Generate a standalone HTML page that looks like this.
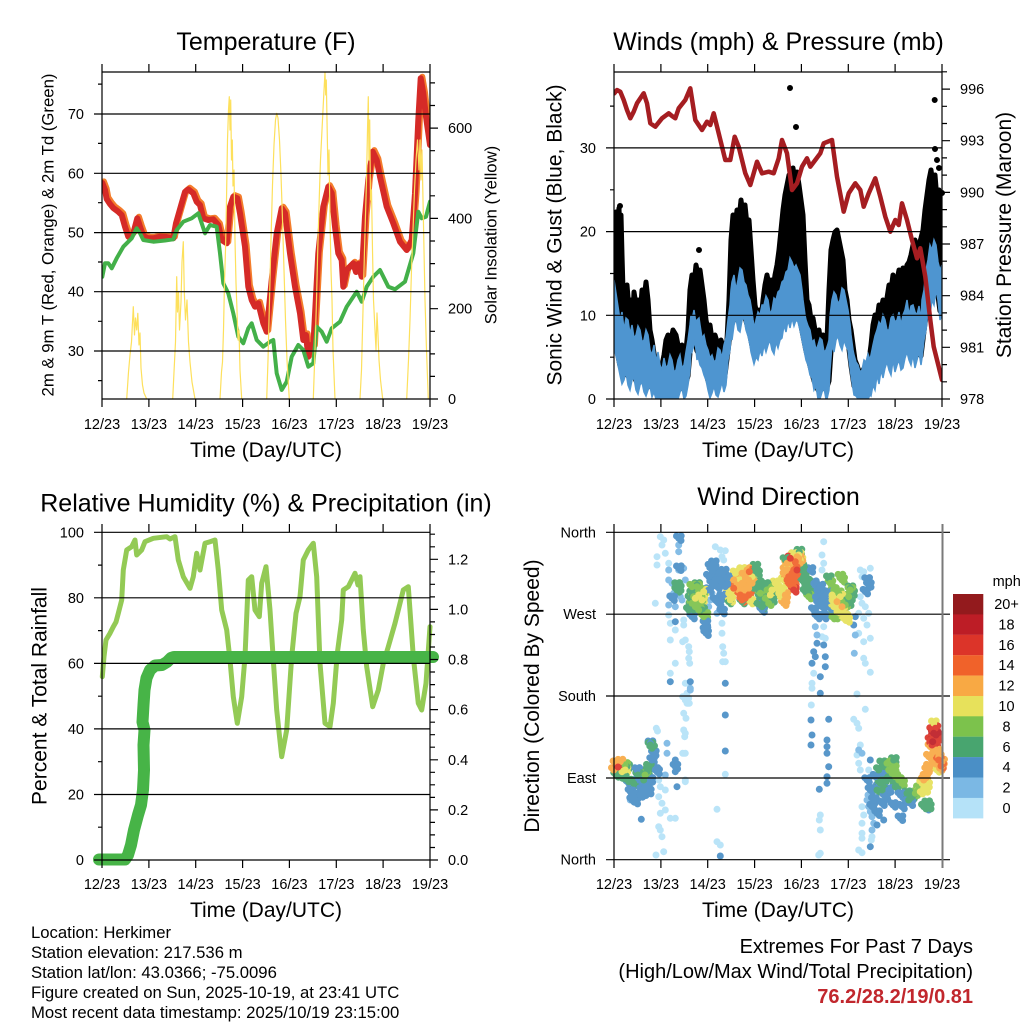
<!DOCTYPE html>
<html><head><meta charset="utf-8"><style>
html,body{margin:0;padding:0;background:#fff;}
svg{display:block;}
text{font-family:"Liberation Sans",Arial,Helvetica,sans-serif;fill:#000;}
</style></head><body>
<svg xmlns="http://www.w3.org/2000/svg" xmlns:xlink="http://www.w3.org/1999/xlink" width="1024" height="1024" viewBox="0 0 1024 1024">
<rect width="1024" height="1024" fill="#fff"/>
<defs>
<clipPath id="c1"><rect x="102" y="72" width="328" height="327"/></clipPath>
<clipPath id="c2"><rect x="614" y="60" width="328" height="339"/></clipPath>
<polyline id="tl" fill="none" points="102.3,183 105,190 106.7,199 110,204 113.3,208 118.3,211.7 121.7,215 125,226.7 128.3,236.7 133.3,233.3 137.3,218.3 140,226.7 143.3,236 148.3,238.3 153.3,238.3 160,236.7 166,237 173.3,238.3 176,223.3 181.7,203.3 185,192 188.3,189.3 193.3,193.3 196.7,201.7 200,205 203.3,218.3 208.3,220 213.3,219.3 218.3,225 221.7,240 226.7,243.3 230,206.7 233.3,196.7 237.3,198.3 240,213.3 245,246.7 248.3,286.7 251.7,300 255,306.7 258.3,303.3 263.3,323.3 266.7,331.7 271.7,280 276.7,233.3 281.7,208.3 285,213.3 290,253.3 295,286.7 300,313.3 303.3,340 306,335 308.3,356.7 311,345 313.3,346.7 318.3,253.3 323.3,206.7 328.3,186.7 331.7,193.3 335,226.7 338.3,253.3 341.7,260 343.3,286.7 346.7,270 353.3,263.3 356,272 358.3,264 361.7,276.7 365,216.7 368.3,180 372.7,151.7 376.7,160 380,176.7 386.7,206.7 393.3,223.3 400,241.7 406.7,250 411.7,240 415,193.3 418.3,120 420.7,78.3 423.3,93.3 426,116.7 430,145"/>
</defs>

<!-- ============ TOP-LEFT: TEMPERATURE ============ -->
<g clip-path="url(#c1)" fill="none" stroke-linejoin="round" stroke-linecap="round">
<use xlink:href="#tl" href="#tl" stroke="#f47d2c" stroke-width="6" transform="translate(1.6,-1.6)"/>
<use xlink:href="#tl" href="#tl" stroke="#d52a27" stroke-width="6"/>
<polyline stroke="#43b049" stroke-width="4" points="102.3,276.7 105,263.3 108.3,263.3 111.7,268.3 116.7,258.3 123.3,246.7 131.7,238.3 136.7,228.3 140,233.3 143.3,240 153.3,241.7 165,240.5 173.3,239.3 176.7,230 183.3,221.7 191.7,218.3 198.3,213.3 201.7,223.3 205,233.3 210,225 216.7,226.7 220,253.3 223.3,283.3 228.3,293.3 233.3,313.3 238.3,336.7 243.3,343.3 248.3,328.3 251.7,323.3 256.7,340 263.3,346.7 270,341.7 273.3,340 276.7,373.3 281.7,390 286.7,381.7 291.7,356.7 298.3,345 303.3,350 308.3,366.7 313.3,363.3 316.7,326.7 321.7,331.7 326.7,341.7 331.7,328.3 340,321.7 346.7,306.7 356.7,291.7 361.7,301.7 366.7,286.7 373.3,276.7 380,270 388.3,286.7 395,289.3 405,281.7 413.3,253.3 418.3,211.7 421.7,218.3 426,216.7 430,201.7"/>
<g stroke="#fde05c" stroke-width="1.2">
<polyline points="126.7,399 128.5,372 130,355 131.5,342 133.3,306.7 134.5,335 135.5,318 136.7,330 137.8,313.3 139,345 140,333 141,368 142.5,385 144,393 146.7,399"/>
<polyline points="172.7,399 174,372 175.5,342 176.7,276.7 177.5,312 178.5,292 179.5,330 181,302 182,262 183.3,241.7 184.3,292 185.5,320 187,300 188.5,342 190,362 192,382 195,399"/>
<polyline points="220,399 221.5,372 222.5,362 223.5,330 224.5,282 225.5,250 226.5,200 227.5,140 228.5,110 229.3,96.7 230,130 230.7,100 231.5,160 232.3,140 233,186 234,170 235,240 236,283 237,310 238,340 239,330 240,370 241.7,399"/>
<polyline points="266.7,399 268,360 269.5,300 271,240 272.5,185 274,145 275.5,120 276.7,113.3 278,118 279.5,140 281,175 282.5,220 284,270 285.5,320 287,360 289.3,399"/>
<polyline points="313.3,399 315,350 316.5,300 318,240 319.5,190 320.5,160 321.5,140 322.5,120 323.5,100 324.3,85 325,71.7 325.7,95 326.3,80 327,120 328,175 329,150 330,220 331,270 332,300 333,350 335,399"/>
<polyline points="360,399 361.5,370 362.5,330 363.5,290 364.5,250 365.5,215 366.5,180 367.5,130 368.3,96.7 369,160 369.7,120 370.5,200 371.5,190 372.5,250 373.5,300 375,330 376,350 377,313 378,335 379,360 380.5,380 382.7,399"/>
<polyline points="406.7,399 408.5,360 410,320 411.5,270 413,230 414.5,190 416,160 417.5,140 419,170 420,140 421,180 422,150 423,200 424,250 425,300 426.5,350 428.3,399"/>
</g>
</g>
<g fill="none" stroke="#000" stroke-width="1.2">
<path d="M94 351H430M94 291.7H430M94 232.6H430M94 173.3H430M94 114H430"/>
<path d="M102 64V407M430 64V407M102 72H430M102 399H438"/>
<path d="M148.9 64V72M195.7 64V72M242.6 64V72M289.4 64V72M336.3 64V72M383.1 64V72M148.9 399V407M195.7 399V407M242.6 399V407M289.4 399V407M336.3 399V407M383.1 399V407"/>
<path d="M98 380.6H102M98 321.3H102M98 262H102M98 202.7H102M98 143.4H102M98 84.1H102"/>
<path d="M430 308.7H438M430 218.4H438M430 128.1H438"/>
<path d="M430 376.4H435M430 353.9H435M430 331.3H435M430 286.1H435M430 263.6H435M430 241H435M430 195.8H435M430 173.3H435M430 150.7H435M430 105.5H435M430 82.9H435"/>
</g>
<text x="266" y="50" font-size="25" text-anchor="middle">Temperature (F)</text>
<g font-size="14.5" text-anchor="end">
<text x="84" y="356">30</text><text x="84" y="296.7">40</text><text x="84" y="237.6">50</text><text x="84" y="178.3">60</text><text x="84" y="119">70</text>
</g>
<g font-size="14.5">
<text x="448" y="404">0</text><text x="448" y="313.7">200</text><text x="448" y="223.4">400</text><text x="448" y="133.1">600</text>
</g>
<g font-size="14.5" text-anchor="middle">
<text x="102" y="429">12/23</text><text x="148.9" y="429">13/23</text><text x="195.7" y="429">14/23</text><text x="242.6" y="429">15/23</text><text x="289.4" y="429">16/23</text><text x="336.3" y="429">17/23</text><text x="383.1" y="429">18/23</text><text x="430" y="429">19/23</text>
</g>
<text x="266" y="457" font-size="21" text-anchor="middle">Time (Day/UTC)</text>
<text transform="translate(53.5,235) rotate(-90)" font-size="16.7" text-anchor="middle" textLength="323" lengthAdjust="spacingAndGlyphs">2m &amp; 9m T (Red, Orange) &amp; 2m Td (Green)</text>
<text transform="translate(496.5,235) rotate(-90)" font-size="16.7" text-anchor="middle">Solar Insolation (Yellow)</text>

<!-- ============ TOP-RIGHT: WINDS ============ -->
<g clip-path="url(#c2)">
<polygon fill="#000" stroke="#000" stroke-width="5" stroke-linejoin="round" points="614,270 615,230 616,212 617,245 618,220 619,208 620,240 621,215 622,255 623,290 625,300 627,285 629,310 631,300 633,315 634,292 636,305 638,300 640,318 642,290 644,300 646,282 648,300 650,330 652,340 655,360 658,365 661,370 664,355 666,340 668,335 670,345 673,330 676,335 679,350 682,345 685,360 688,330 690,290 692,275 694,285 696,265 698,275 700,270 702,285 704,300 706,320 708,330 710,325 712,340 715,335 718,345 721,340 724,350 727,340 729,300 731,240 733,215 735,230 737,210 739,220 741,200 743,215 745,205 747,225 749,220 751,250 753,280 755,305 757,315 759,310 761,320 763,300 765,285 767,275 769,285 771,280 773,290 775,275 777,265 779,250 781,230 783,210 785,195 787,185 789,175 791,178 793,168 795,180 797,172 799,185 801,200 803,215 805,260 807,300 809,305 811,320 813,318 815,330 817,340 819,330 821,345 823,335 825,350 827,340 829,290 831,250 833,240 835,232 837,230 839,240 841,250 843,260 845,290 847,300 849,320 851,330 853,345 855,360 857,365 860,375 863,370 866,365 869,360 871,345 873,325 875,315 877,320 879,305 881,310 883,300 885,305 887,298 889,285 891,290 893,275 895,285 897,280 899,270 901,278 903,268 905,275 907,265 909,262 911,255 913,245 915,240 917,250 919,245 921,238 923,230 925,210 927,195 929,180 931,170 933,185 935,175 937,200 939,190 941,220 942,210 942,306 940,311 936,281 932,291 928,301 924,331 921,356 917,351 913,346 909,351 905,349 901,361 897,356 893,351 889,361 885,359 881,361 877,366 873,376 870,386 866,390 862,390 858,390 854,386 851,366 848,341 844,331 840,336 836,331 832,336 829,381 826,390 822,383 818,390 814,381 810,366 806,351 803,336 800,321 796,311 792,309 788,311 784,316 780,331 776,333 772,341 768,336 764,336 760,341 756,348 753,351 750,336 746,321 742,311 738,321 734,316 731,326 728,351 724,383 720,381 716,386 712,384 708,381 704,366 700,356 697,351 694,336 691,341 688,376 684,390 680,383 676,390 672,390 668,390 664,390 660,390 656,390 652,388 648,381 644,383 640,376 636,381 632,371 628,376 624,371 620,366 617,351 614,336"/>
<polygon fill="#4e95d0" stroke="#4e95d0" stroke-width="1.5" stroke-linejoin="miter" points="614,280 617,300 620,320 622,312 624,330 626,318 628,320 630,334 632,325 634,338 636,335 638,326 640,330 642,342 644,340 646,330 648,335 650,350 652,355 654,345 656,362 658,352 660,365 662,370 664,358 666,368 668,365 670,355 672,360 674,372 676,370 678,360 680,355 682,368 684,365 686,352 688,340 690,325 691,315 692,320 694,310 696,324 697,320 699,318 700,325 702,338 704,335 706,345 708,350 710,358 712,355 714,362 716,360 718,348 720,350 722,358 724,345 726,338 728,320 730,305 731,290 732,282 734,275 736,290 738,280 740,268 742,270 744,282 746,285 748,295 750,300 752,312 753,320 755,328 756,320 758,312 760,315 762,305 764,305 766,296 768,300 770,314 772,310 774,298 776,300 778,292 780,290 782,282 784,280 786,272 788,270 790,258 792,262 794,268 796,265 798,270 800,275 802,290 803,300 805,315 806,320 808,326 810,330 812,342 814,340 816,350 818,345 820,338 822,340 824,352 826,350 828,344 829,340 830,316 832,300 834,292 836,295 838,304 840,300 842,288 844,290 846,300 848,310 850,324 851,335 853,350 854,355 856,362 858,365 860,372 862,370 864,360 866,362 868,354 870,360 872,350 873,345 875,336 877,330 879,322 881,325 883,315 885,320 887,330 889,330 891,318 893,315 895,322 897,320 899,312 901,325 903,315 905,310 907,300 909,315 911,306 913,305 915,312 917,315 919,306 921,320 922,300 924,290 926,270 928,260 930,245 932,250 934,240 936,245 938,262 940,270 942,265 942,315 940,320 938,300 936,290 934,305 932,300 930,315 928,310 926,330 924,340 922,358 921,365 919,352 917,360 915,368 913,355 911,365 909,360 907,352 905,358 903,368 901,370 899,360 897,365 895,372 893,360 891,375 889,370 887,362 885,368 883,378 881,370 879,384 877,375 875,390 873,385 871,396 870,395 868,399 866,399 862,399 858,399 856,396 854,395 852,382 851,375 849,360 848,350 846,346 844,340 842,350 840,345 838,336 836,340 834,352 832,345 830,370 829,390 827,399 826,399 824,388 822,392 820,399 818,399 816,386 814,390 812,378 810,375 808,365 806,360 804,350 803,345 801,335 800,330 798,322 796,320 794,326 792,318 790,328 788,320 786,332 784,325 782,338 780,340 778,348 776,342 774,354 772,350 770,340 768,345 766,352 764,345 762,356 760,350 758,360 756,357 754,364 753,360 751,352 750,345 748,336 746,330 744,318 742,320 740,332 738,330 736,318 734,325 732,340 731,335 730,350 728,360 726,385 724,392 722,382 720,390 718,397 716,395 714,386 712,393 710,398 708,390 706,380 704,375 702,368 700,365 698,356 697,360 695,340 694,345 692,352 691,350 690,370 688,385 686,396 684,399 682,388 680,392 678,399 676,399 672,399 668,399 664,399 660,399 656,399 654,392 652,397 650,386 648,390 646,396 644,392 642,382 640,385 638,394 636,390 634,378 632,380 630,390 628,385 626,372 624,380 622,384 620,375 618,365 617,360 615,352 614,345"/>
<polyline fill="none" stroke="#a51d21" stroke-width="4.5" stroke-linejoin="round" stroke-linecap="round" points="614.3,93.3 617,90 620.3,91.7 623.7,100 627,110 630.3,118.3 633.7,111.7 637,103.3 643.7,93.3 647,103.3 650.3,123.3 655.3,126.7 662,118.3 668.7,113.3 672,116 675.3,118.3 678.7,108.3 685.3,100 690.3,88.3 695.3,120 702,130 707,121.7 710.3,125 713.7,113.3 718.7,133.3 725.3,160 730.3,160 734.7,136.7 738.7,146.7 745.3,173.3 750.3,185 757,161.7 762,173.3 768.7,171.7 773.7,173.3 778.7,158.3 782,140 787,153.3 792,190 797,183.3 802,166.7 807,158.3 810.3,166.7 815.3,160 820.3,153.3 823.7,143.3 832,140 837,176.7 843.7,211.7 848.7,193.3 855.3,183.3 860.3,190 863.7,206.7 868.7,193.3 875.3,178.3 880.3,196.7 885.3,216.7 890.3,231.7 895.3,220 898.7,225 902,203.3 907,220 912,240 917,258.3 920.3,248.3 925.3,276.7 930.3,320 933.7,346.7 938.7,366.7 942,380"/>
</g>
<path fill="none" stroke="#000" stroke-width="6" stroke-linecap="round" d="M790 88h0M796 127h0M934.7 100h0M935 149h0M937 160h0M939 168h0M942 193h0M699 250h0M620 206h0"/>
<g fill="none" stroke="#000" stroke-width="1.2">
<path d="M606 315.3H942M606 231.6H942M606 147.9H942"/>
<path d="M614 64V407M942 64V407M614 72H942M606 399H950"/>
<path d="M660.9 64V72M707.7 64V72M754.6 64V72M801.4 64V72M848.3 64V72M895.1 64V72M660.9 399V407M707.7 399V407M754.6 399V407M801.4 399V407M848.3 399V407M895.1 399V407"/>
<path d="M610 357.2H614M610 273.5H614M610 189.8H614M610 106.1H614"/>
<path d="M942 347.3H950M942 295.7H950M942 244H950M942 192.4H950M942 140.7H950M942 89.1H950"/>
<path d="M942 381.8H947M942 364.6H947M942 330.1H947M942 312.9H947M942 278.5H947M942 261.2H947M942 226.8H947M942 209.6H947M942 175.1H947M942 157.9H947M942 123.5H947M942 106.3H947M942 71.8H947"/>
</g>
<text x="778.5" y="50" font-size="25" text-anchor="middle">Winds (mph) &amp; Pressure (mb)</text>
<g font-size="14.5" text-anchor="end">
<text x="596" y="404">0</text><text x="596" y="320.3">10</text><text x="596" y="236.6">20</text><text x="596" y="152.9">30</text>
</g>
<g font-size="14.5">
<text x="960" y="404">978</text><text x="960" y="352.3">981</text><text x="960" y="300.7">984</text><text x="960" y="249">987</text><text x="960" y="197.4">990</text><text x="960" y="145.7">993</text><text x="960" y="94.1">996</text>
</g>
<g font-size="14.5" text-anchor="middle">
<text x="614" y="429">12/23</text><text x="660.9" y="429">13/23</text><text x="707.7" y="429">14/23</text><text x="754.6" y="429">15/23</text><text x="801.4" y="429">16/23</text><text x="848.3" y="429">17/23</text><text x="895.1" y="429">18/23</text><text x="942" y="429">19/23</text>
</g>
<text x="778" y="457" font-size="21" text-anchor="middle">Time (Day/UTC)</text>
<text transform="translate(561.5,235) rotate(-90)" font-size="21" text-anchor="middle">Sonic Wind &amp; Gust (Blue, Black)</text>
<text transform="translate(1011,235) rotate(-90)" font-size="21" text-anchor="middle">Station Pressure (Maroon)</text>

<!-- ============ BOTTOM-LEFT: RH & PRECIP ============ -->
<polyline fill="none" stroke="#93ca55" stroke-width="5" stroke-linejoin="round" stroke-linecap="round" points="102.3,676.7 104,656.7 106,640 110,633.3 113.3,626.7 116,622 118.3,613.3 121.7,600 123.3,570 126.7,550 131.7,546.7 135,540 136.7,555 141.7,550 145,541.7 153.3,538.3 166.7,536.7 170,539 175,536.7 178.3,560 183.3,576.7 190,588.3 193.3,576.7 196.7,553.3 200,570 205,543.3 210,541.7 215,540 218.3,570 221.7,610 226.7,630 230,660 233.3,696.7 237.3,723.3 241.7,696.7 245,656.7 248.3,580 251.7,576.7 255,610 259.3,616.7 261.7,583.3 266,566.7 270,610 273.3,660 276.7,710 281.7,756.7 286.7,730 291.7,656.7 296,613.3 300,596.7 303.3,560 308.3,550 313.3,543.3 316.7,576.7 320,663.3 325,723.3 330,726.7 333.3,703.3 337.3,653.3 341.7,620 343.3,590 348.3,586.7 351.7,580 355,573.3 358,585 360,576.7 363.3,630 366.7,666.7 372.7,706.7 378.3,690 383.3,663.3 388.3,646.7 395,623.3 403.3,590 408.3,586.7 413.3,656.7 418.3,703.3 421.7,710 426,683.3 430,626.7"/>
<polyline fill="none" stroke="#47b447" stroke-width="12" stroke-linejoin="round" stroke-linecap="round" points="99,859.5 125,859.5 128,855 131,845 134,830 138,815 141,805 143,790 144,770 143.5,745 144.5,730 142.5,722 143.5,705 144.5,690 146.5,678 150,670 155,665.5 162,665 167,662 171,658 174,657 433,657"/>
<g fill="none" stroke="#000" stroke-width="1.2">
<path d="M94 794.5H430M94 728.9H430M94 663.4H430M94 597.8H430"/>
<path d="M102 524V868M430 524V868M94 532.3H430M94 860H438"/>
<path d="M148.9 524V532M195.7 524V532M242.6 524V532M289.4 524V532M336.3 524V532M383.1 524V532M148.9 860V868M195.7 860V868M242.6 860V868M289.4 860V868M336.3 860V868M383.1 860V868"/>
<path d="M98 827.2H102M98 761.7H102M98 696.2H102M98 630.6H102M98 565.1H102"/>
<path d="M430 809.9H438M430 759.8H438M430 709.6H438M430 659.5H438M430 609.4H438M430 559.3H438"/>
<path d="M430 847.5H435M430 834.9H435M430 822.4H435M430 797.4H435M430 784.8H435M430 772.3H435M430 747.2H435M430 734.7H435M430 722.2H435M430 697.1H435M430 684.6H435M430 672H435M430 647H435M430 634.5H435M430 621.9H435M430 596.9H435M430 584.3H435M430 571.8H435M430 546.8H435M430 534.2H435"/>
</g>
<text x="266" y="511.5" font-size="25" text-anchor="middle">Relative Humidity (%) &amp; Precipitation (in)</text>
<g font-size="14.5" text-anchor="end">
<text x="84" y="865">0</text><text x="84" y="799.5">20</text><text x="84" y="733.9">40</text><text x="84" y="668.4">60</text><text x="84" y="602.8">80</text><text x="84" y="537.3">100</text>
</g>
<g font-size="14.5">
<text x="448" y="865">0.0</text><text x="448" y="814.9">0.2</text><text x="448" y="764.8">0.4</text><text x="448" y="714.6">0.6</text><text x="448" y="664.5">0.8</text><text x="448" y="614.4">1.0</text><text x="448" y="564.3">1.2</text>
</g>
<g font-size="14.5" text-anchor="middle">
<text x="102" y="889">12/23</text><text x="148.9" y="889">13/23</text><text x="195.7" y="889">14/23</text><text x="242.6" y="889">15/23</text><text x="289.4" y="889">16/23</text><text x="336.3" y="889">17/23</text><text x="383.1" y="889">18/23</text><text x="430" y="889">19/23</text>
</g>
<text x="266" y="917" font-size="21" text-anchor="middle">Time (Day/UTC)</text>
<text transform="translate(46.5,696) rotate(-90)" font-size="21" text-anchor="middle">Percent &amp; Total Rainfall</text>

<!-- ============ BOTTOM-RIGHT: WIND DIRECTION ============ -->
<g fill="none" stroke-width="7" stroke-linecap="round" opacity="0.92">
<path stroke="#b5e2f8" d="M656.3 728.3h0M657.5 731h0M658.7 780h0M660.3 786.7h0M658.7 796.7h0M662 803.3h0M660.3 813.3h0M658.7 826.7h0M660.3 830h0M662 836.7h0M663.7 851.7h0M656 855h0M665.3 790h0M665.3 810h0M670.3 818.3h0M675.3 818.3h0M685.3 780h0M660.3 536.7h0M663.7 540h0M657 556.7h0M665.3 553.3h0M657 565h0M668.7 563.3h0M655.3 603.3h0M670.3 623.3h0M670.3 640h0M668.7 615h0M675.3 630h0M675.3 663.3h0M670.3 673.3h0M683.7 620h0M683.7 625h0M685.3 640h0M682.7 641.7h0M662 545h0M688.7 646.7h0M689.3 651.7h0M688.7 658.3h0M689.7 663.3h0M685.3 683.3h0M688.7 683.3h0M687 693.3h0M688.7 698.3h0M685.3 700h0M683.7 713.3h0M686 718.3h0M683.7 730h0M685.3 733.3h0M684.7 736.7h0M685.3 753.3h0M682.7 753.3h0M685.3 781.7h0M687 703.3h0M689.3 703.3h0M682.7 696.7h0M715.3 546.7h0M720.3 550h0M725.3 550.7h0M722 556.7h0M723.7 560h0M722 623.3h0M722 633.3h0M722.7 646.7h0M723.7 653.3h0M725.3 661.7h0M722.7 661.7h0M725.3 774.3h0M717 809.3h0M717 841.7h0M720.3 845h0M823.7 541.7h0M822 555h0M823.7 563.3h0M822 570h0M827 610h0M823.7 626.7h0M822 636.7h0M825.3 638.3h0M812 683.3h0M812 688.3h0M811.3 705h0M820.3 815h0M819.3 820h0M820.3 830h0M818.7 855h0M820.3 853.3h0M813.7 673.3h0M860.3 570h0M863.7 571.7h0M862 576.7h0M870.3 568.3h0M860.3 596.7h0M862 603.3h0M865.3 606.7h0M858.7 613.3h0M868.7 613.3h0M863.7 618.3h0M867 625h0M870.3 638.3h0M863.7 641.7h0M858.7 633.3h0M863.7 658.3h0M865.3 663.3h0M870.3 672.3h0M857 694h0M865.3 709.3h0M853.7 719.3h0M857 723.3h0M858.7 728.3h0M860.3 745h0M857 755h0M858.7 763.3h0M860.3 770h0M862 806.7h0M863.7 815h0M862 823.3h0M862 833.3h0M862 838.3h0M858.7 850h0M862 852.7h0M868.7 770h0M872 836.7h0M871.3 840h0"/>
<path stroke="#7bb8e4" d="M630.3 800h0M633.7 801.7h0M642 797h0M667 743.3h0M667 753.3h0M665.3 775h0M668.7 570h0M668.7 580h0M672 583.3h0M675.3 586.7h0M673.7 593.3h0M668.7 605h0M678.7 570h0M683.7 568.3h0M678.7 590h0M682 600h0M675.3 606.7h0M685.3 580h0M680.3 596.7h0M678.7 545h0M678.7 551.7h0M690.3 688.3h0M690.3 690h0M708.7 606.7h0M712 593.3h0M720.3 606.7h0M717 613.3h0M710.3 600h0M817 635h0M815.3 626.7h0M855.3 635h0M854.3 653.3h0M858.7 750h0M862 753.3h0M867 800h0M868.7 806.7h0M870.3 811.7h0M872 816.7h0M873.7 823.3h0M872 830h0M868 795h0"/>
<path stroke="#4a8fc6" d="M725.3 683.3h0M725.3 715h0M725.3 751h0M720.3 856h0M817 643.3h0M813.7 651.7h0M812 663.3h0M815.3 656.7h0M820.3 676.7h0M820.3 693.3h0M811 720h0M812 735h0M811 745h0M827 740h0M827 746.7h0M827 753.3h0M828.7 766.7h0M827 776.7h0M827 783.3h0M828.7 719.3h0M819.3 789.3h0M825.3 656.7h0M825.3 666.7h0M823.7 645h0M855.3 616.7h0M853.7 625h0M870.3 760h0M641.3 819.3h0M670.3 681.7h0M690.3 681.7h0M870.3 846.7h0M877 825h0M883.7 820h0M928.7 810h0M675.3 760h0M675.3 771.7h0M677 786.7h0M675.3 621.7h0"/>
<use xlink:href="#wdhi" href="#wdhi" transform="translate(2.3,2.2)"/>
<use xlink:href="#wdhi" href="#wdhi" transform="translate(-2.2,-2.3)"/>
<use xlink:href="#wdhi" href="#wdhi" transform="translate(2.5,-2.4)"/>
<g id="wdhi">
<path stroke="#4a8fc6" d="M628.7 783.3h0M630.3 791.7h0M633.7 796.7h0M632 800h0M637 770h0M638.7 780h0M642 790h0M643.7 793.3h0M645.3 786.7h0M648.7 791.7h0M652 760h0M653.7 753.3h0M650.3 743.3h0M655.3 770h0M635.3 801.7h0M640.3 795h0M647 783.3h0M650.3 780h0M657 771.7h0M675.3 766.7h0M678.7 538.3h0M672 598.3h0M678.7 568.3h0M692 616.7h0M705.3 623.3h0M705.3 630h0M706 633.3h0M710.3 566.7h0M712 570h0M713.7 563.3h0M708.7 576.7h0M712 583.3h0M715.3 580h0M718.7 573.3h0M720.3 580h0M717 586.7h0M708.7 590h0M715.3 600h0M718.7 603.3h0M722 596.7h0M725.3 586.7h0M727 578.3h0M723.7 571.7h0M722 611.7h0M758.7 603.3h0M762 610h0M810.3 570h0M813.7 583.3h0M817 590h0M815.3 596.7h0M818.7 603.3h0M813.7 610h0M820.3 586.7h0M823.7 596.7h0M822 606.7h0M825.3 603.3h0M817 616.7h0M823.7 616.7h0M828.7 593.3h0M832 610h0M867 580h0M868.7 585h0M865.3 591.7h0M867 780h0M870.3 790h0M873.7 800h0M872 806.7h0M877 813.3h0M878.7 786.7h0M875.3 776.7h0M882 773.3h0M882 803.3h0M885.3 796.7h0M888.7 790h0M900.3 795h0M902 806.7h0M905.3 800h0M910.3 803.3h0M900.3 818.3h0M893 805h0"/>
<path stroke="#48a56f" d="M616 775h0M623.7 778.3h0M628.7 781.7h0M633.7 783.3h0M643.7 780h0M647 771.7h0M648.7 766.7h0M627 766.7h0M650.3 745h0M652 748.3h0M620 776h0M638 775h0M677 585h0M677 590h0M678.7 588.3h0M692 593.3h0M690.3 598.3h0M693.7 610h0M688.7 610h0M697 585h0M702 610h0M691.3 605h0M755.3 566.7h0M757 573.3h0M752 571.7h0M728.7 601.7h0M753.7 588.3h0M742 601.7h0M758.7 590h0M762 588.3h0M765.3 585h0M760.3 596.7h0M763.7 601.7h0M762 606.7h0M768.7 593.3h0M772 600h0M775.3 591.7h0M757 603.3h0M758.7 583.3h0M785.3 560h0M798.7 553.3h0M801.3 566.7h0M802 570h0M799.3 551.7h0M805.3 583.3h0M807 586.7h0M805.3 591.7h0M808.7 593.3h0M803.7 576.7h0M802 580h0M807 581.7h0M850.3 588.3h0M852 593.3h0M848.7 603.3h0M845.3 600h0M828.7 578.3h0M850 598h0M878.7 770h0M882 763.3h0M885.3 766.7h0M880.3 783.3h0M883.7 780h0M888.7 776.7h0M893.7 760h0M892 780h0M895.3 786.7h0M900.3 783.3h0M907 793.3h0M908.7 800h0M912 796.7h0M877 790h0M882 790h0M927 803.3h0M928.7 806.7h0M923.7 806.7h0"/>
<path stroke="#7cc24c" d="M625 765h0M645 775h0M692 586.7h0M697 586.7h0M698.7 590h0M693.7 596.7h0M697 601.7h0M700.3 603.3h0M702 596.7h0M695.3 606.7h0M698.7 610h0M692 603.3h0M703.7 616.7h0M705.3 615h0M767 590h0M770.3 588.3h0M773.7 585h0M765.3 598.3h0M760.3 593.3h0M768.7 603.3h0M808.7 596.7h0M830.3 583.3h0M833.7 590h0M838.7 593.3h0M842 601.7h0M845.3 605h0M848.7 596.7h0M850.3 590h0M840.3 576.7h0M842 580h0M832 616.7h0M835.3 616.7h0M887 763.3h0M888.7 770h0M892 773.3h0M895.3 776.7h0M898.7 780h0M893.7 768.3h0M902 783.3h0M915.3 793.3h0M918.7 788.3h0"/>
<path stroke="#e7e15b" d="M622 771.7h0M625.3 770h0M698.7 595h0M702 600h0M703.7 591.7h0M695.3 598.3h0M728.7 593.3h0M732 590h0M735.3 573.3h0M742 570h0M752 576.7h0M750.3 601.7h0M730.3 600h0M738.7 580h0M772 590h0M777 588.3h0M778.7 593.3h0M780.3 596.7h0M775.3 583.3h0M770.3 595h0M782 590h0M793.7 555h0M798.7 555h0M787 568.3h0M783.7 580h0M800.3 560h0M832 600h0M835.3 603.3h0M838.7 606.7h0M842 610h0M845.3 616.7h0M847 620h0M837 611.7h0M833.7 606.7h0M840.3 613.3h0M843.7 618.3h0M832 595h0M840.3 596.7h0M922 783.3h0M923.7 788.3h0M925.3 790h0M920.3 791.7h0M927 785h0M933.7 723.3h0M937 770h0"/>
<path stroke="#f8a944" d="M620.3 761.7h0M615.3 763.3h0M613.7 770h0M733.7 580h0M737 585h0M742 583.3h0M745.3 576.7h0M748.7 580h0M738.7 590h0M743.7 591.7h0M748.7 588.3h0M752 583.3h0M742 573.3h0M747 570h0M783.7 603.3h0M785.3 595h0M784.7 600h0M785.3 570h0M787 563.3h0M788.7 570h0M798.7 558.3h0M797 556.7h0M785.3 575h0M800.3 563.3h0M837 601.7h0M842 606.7h0M925.3 776.7h0M927 770h0M923.7 780h0M928.7 766.7h0M930.3 746.7h0M928.7 756.7h0M937 751.7h0M938.7 756.7h0M940.3 763.3h0M942 761.7h0M939.7 768.3h0M938 765h0"/>
<path stroke="#f0622a" d="M733.7 588.3h0M740.3 595h0M743.7 596.7h0M745.3 598.3h0M748.7 595h0M742 600h0M749.3 571.7h0M788.7 576.7h0M792 580h0M793.7 570h0M795.3 576.7h0M790.3 585h0M793.7 586.7h0M797 566.7h0M792 573.3h0M788.7 583.3h0M787 580h0M795.3 561.7h0M938.7 760h0M941 766h0"/>
<path stroke="#dc3429" d="M618 767h0M790.3 558.3h0M793.7 590h0M797 570h0M932 730h0M935.3 728.3h0M933.7 736.7h0M930.3 740h0M937 738.3h0M932 745h0M935.3 743.3h0"/>
<path stroke="#bd1d26" d="M933.7 733.3h0M936 735h0M932.7 741.7h0"/>
</g>
</g>
<g fill="none" stroke="#000" stroke-width="1.2">
<path d="M606 532.3H950M606 614.2H950M606 696H950M606 778H950M606 859.7H950"/>
<path d="M614 524V868"/>
<path d="M660.9 524V532M707.7 524V532M754.6 524V532M801.4 524V532M848.3 524V532M895.1 524V532M660.9 860V868M707.7 860V868M754.6 860V868M801.4 860V868M848.3 860V868M895.1 860V868"/>
</g>
<path d="M942.5 524V868" stroke="#7a7a7a" stroke-width="2" fill="none"/>
<text x="778.5" y="505" font-size="25" text-anchor="middle">Wind Direction</text>
<g font-size="14.5" text-anchor="end">
<text x="596" y="537.3">North</text><text x="596" y="619.2">West</text><text x="596" y="701">South</text><text x="596" y="783">East</text><text x="596" y="864.7">North</text>
</g>
<g font-size="14.5" text-anchor="middle">
<text x="614" y="889">12/23</text><text x="660.9" y="889">13/23</text><text x="707.7" y="889">14/23</text><text x="754.6" y="889">15/23</text><text x="801.4" y="889">16/23</text><text x="848.3" y="889">17/23</text><text x="895.1" y="889">18/23</text><text x="942" y="889">19/23</text>
</g>
<text x="778" y="917" font-size="21" text-anchor="middle">Time (Day/UTC)</text>
<text transform="translate(539,696) rotate(-90)" font-size="21" text-anchor="middle">Direction (Colored By Speed)</text>

<!-- colorbar -->
<g>
<rect x="953" y="594" width="30.3" height="20.5" fill="#931a1d"/>
<rect x="953" y="614.4" width="30.3" height="20.5" fill="#bd1d26"/>
<rect x="953" y="634.8" width="30.3" height="20.5" fill="#dc3429"/>
<rect x="953" y="655.2" width="30.3" height="20.5" fill="#f0622a"/>
<rect x="953" y="675.6" width="30.3" height="20.5" fill="#f8a944"/>
<rect x="953" y="696" width="30.3" height="20.5" fill="#e7e15b"/>
<rect x="953" y="716.3" width="30.3" height="20.5" fill="#7cc24c"/>
<rect x="953" y="736.7" width="30.3" height="20.5" fill="#48a56f"/>
<rect x="953" y="757.1" width="30.3" height="20.5" fill="#4a8fc6"/>
<rect x="953" y="777.5" width="30.3" height="20.5" fill="#7bb8e4"/>
<rect x="953" y="797.9" width="30.3" height="20.5" fill="#b5e2f8"/>
</g>
<g font-size="14.5" text-anchor="middle">
<text x="1006.7" y="586">mph</text>
<text x="1006.5" y="609">20+</text><text x="1006.5" y="629.4">18</text><text x="1006.5" y="649.8">16</text><text x="1006.5" y="670.2">14</text><text x="1006.5" y="690.6">12</text><text x="1006.5" y="711">10</text><text x="1006.5" y="731.4">8</text><text x="1006.5" y="751.8">6</text><text x="1006.5" y="772.2">4</text><text x="1006.5" y="792.6">2</text><text x="1006.5" y="813">0</text>
</g>

<!-- ============ FOOTER TEXT ============ -->
<g font-size="16.7">
<text x="31" y="938">Location: Herkimer</text>
<text x="31" y="958">Station elevation: 217.536 m</text>
<text x="31" y="978">Station lat/lon: 43.0366; -75.0096</text>
<text x="31" y="998">Figure created on Sun, 2025-10-19, at 23:41 UTC</text>
<text x="31" y="1018">Most recent data timestamp: 2025/10/19 23:15:00</text>
</g>
<g font-size="20" text-anchor="end">
<text x="973" y="953">Extremes For Past 7 Days</text>
<text x="973" y="978">(High/Low/Max Wind/Total Precipitation)</text>
<text x="973" y="1003" font-weight="bold" style="fill:#c1272d">76.2/28.2/19/0.81</text>
</g>
</svg>
</body></html>
